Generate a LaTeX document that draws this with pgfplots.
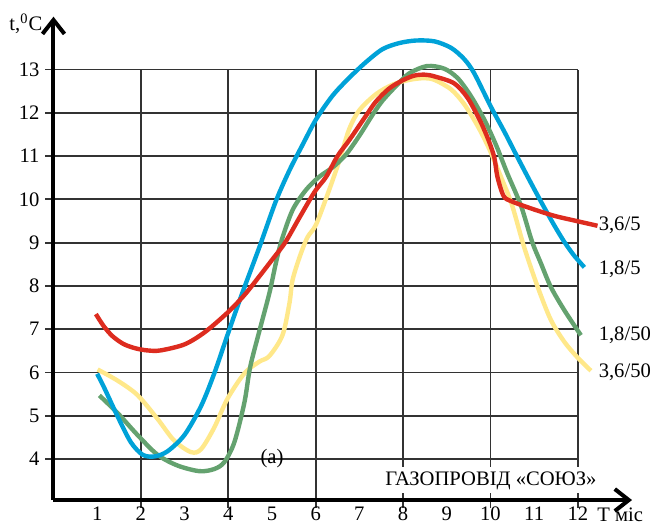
\documentclass[border=0pt]{standalone}
\usepackage{fontspec}
\setmainfont{Liberation Serif}
\usepackage{pgfplots}
\pgfplotsset{compat=1.18}
\usetikzlibrary{arrows.meta}
\definecolor{cred}{HTML}{DD2C1F}
\definecolor{cblue}{HTML}{00A2D8}
\definecolor{cgreen}{HTML}{64A26F}
\definecolor{cyellow}{HTML}{FFE88A}
\begin{document}
\fontsize{10.3}{12}\selectfont
\begin{tikzpicture}
% grid axis
\begin{axis}[at={(0,0)}, anchor=south west, scale only axis,
  width=262.2pt, height=215.25pt,
  xmin=0, xmax=12, ymin=3.053, ymax=13,
  xtick={2,4,...,12}, ytick={4,...,13},
  xticklabels={}, yticklabels={},
  grid=major, major grid style={line width=0.9pt, black!80},
  tick align=outside, tick pos=left, major tick length=4pt,
  tick style={line width=0.9pt, black!80},
  axis line style={draw=none}]
\end{axis}
% main axis
\begin{axis}[at={(0,0)}, anchor=south west, scale only axis,
  width=289.25pt, height=241.66pt,
  xmin=0, xmax=13.24, ymin=3.053, ymax=14.22,
  axis lines=left,
  axis line style={line width=2pt, -{Straight Barb[length=7pt,width=11pt]}},
  xtick={1,...,12}, ytick={4,...,13},
  major tick length=0pt,
  enlargelimits=false, clip=false,
  /pgf/number format/assume math mode=true,
  yticklabel style={xshift=-3.4pt},
  xticklabel style={yshift=0.3pt},
  every axis plot/.append style={line width=2.2pt, smooth, no markers}]
\coordinate (bbsw) at (axis cs:-1.224,2.475);
\coordinate (bbne) at (axis cs:13.72,14.606);
% 3,6/50 (yellow)
\addplot[cyellow] coordinates {(1.01,6.07) (1.47,5.81) (1.92,5.48) (2.38,4.93) (2.76,4.43) (3.15,4.16) (3.38,4.23) (3.68,4.73) (3.98,5.39) (4.37,5.98) (4.71,6.25) (4.94,6.38) (5.24,6.86) (5.4,7.6) (5.47,8.13) (5.63,8.66) (5.81,9.12) (6.01,9.42) (6.31,10.22) (6.54,10.89) (6.77,11.63) (7.0,12.06) (7.38,12.43) (7.76,12.65) (8.14,12.76) (8.48,12.8) (8.72,12.76) (9.1,12.54) (9.4,12.2) (9.71,11.69) (9.97,11.17) (10.24,10.52) (10.49,9.88) (10.77,8.9) (11.08,7.98) (11.38,7.22) (11.69,6.71) (11.99,6.35) (12.3,6.04)};
% 1,8/50 (green)
\addplot[cgreen] coordinates {(1.05,5.47) (1.47,5.06) (1.92,4.56) (2.38,4.1) (2.84,3.85) (3.34,3.72) (3.68,3.77) (3.91,3.93) (4.14,4.39) (4.37,5.31) (4.5,6.12) (4.71,6.95) (4.94,7.83) (5.09,8.53) (5.22,9.05) (5.47,9.75) (5.78,10.22) (6.08,10.52) (6.39,10.74) (6.69,11.03) (7.0,11.47) (7.3,11.95) (7.53,12.28) (7.84,12.62) (8.14,12.91) (8.55,13.08) (8.94,13.02) (9.25,12.8) (9.55,12.39) (9.86,11.84) (10.13,11.25) (10.39,10.59) (10.7,9.85) (10.95,9.03) (11.16,8.51) (11.38,7.98) (11.69,7.44) (12.07,6.86)};
% 1,8/5 (blue)
\addplot[cblue] coordinates {(1.0,5.97) (1.16,5.65) (1.47,4.98) (1.77,4.39) (2.04,4.1) (2.31,4.06) (2.61,4.18) (3.0,4.56) (3.38,5.23) (3.68,5.98) (3.98,6.86) (4.29,7.75) (4.71,8.89) (5.09,9.96) (5.4,10.67) (5.7,11.26) (6.01,11.85) (6.39,12.4) (6.77,12.81) (7.15,13.17) (7.53,13.47) (7.91,13.61) (8.3,13.67) (8.72,13.65) (9.1,13.5) (9.4,13.24) (9.63,12.91) (10.01,12.14) (10.32,11.56) (10.62,10.97) (10.9,10.43) (11.15,9.96) (11.42,9.47) (11.67,9.05) (11.9,8.72) (12.15,8.43)};
% 3,6/5 (red)
\addplot[cred] coordinates {(0.97,7.35) (1.15,7.07) (1.35,6.84) (1.6,6.66) (1.87,6.56) (2.15,6.51) (2.45,6.51) (3.0,6.65) (3.46,6.93) (3.98,7.38) (4.37,7.79) (4.71,8.22) (5.0,8.6) (5.3,9.0) (5.63,9.58) (5.98,10.18) (6.24,10.52) (6.5,11.0) (6.77,11.37) (7.15,11.93) (7.38,12.26) (7.68,12.56) (7.99,12.75) (8.26,12.86) (8.5,12.88) (8.72,12.84) (9.17,12.68) (9.48,12.34) (9.78,11.78) (9.97,11.33) (10.09,10.96) (10.16,10.52) (10.3,10.08) (10.47,9.96) (10.93,9.79) (11.46,9.62) (11.97,9.5) (12.45,9.39)};
\node[anchor=base east, inner sep=0pt] at (axis cs:-0.247,13.897) {t,\textsuperscript{0}C};
\node[anchor=base west, inner sep=0pt] at (axis cs:12.44,2.56) {Т міс};
\node[anchor=base west, fill=white, inner sep=2pt] at (axis cs:7.494,3.40) {ГАЗОПРОВІД «СОЮЗ»};
\node at (axis cs:5.0,4.01) {(a)};
\node[anchor=base west, inner sep=0pt] at (axis cs:12.47,9.28) {3,6/5};
\node[anchor=base west, inner sep=0pt] at (axis cs:12.47,8.26) {1,8/5};
\node[anchor=base west, inner sep=0pt] at (axis cs:12.47,6.73) {1,8/50};
\node[anchor=base west, inner sep=0pt] at (axis cs:12.47,5.88) {3,6/50};
\end{axis}
\pgfresetboundingbox
\path[use as bounding box] (bbsw) rectangle (bbne);
\end{tikzpicture}
\end{document}
